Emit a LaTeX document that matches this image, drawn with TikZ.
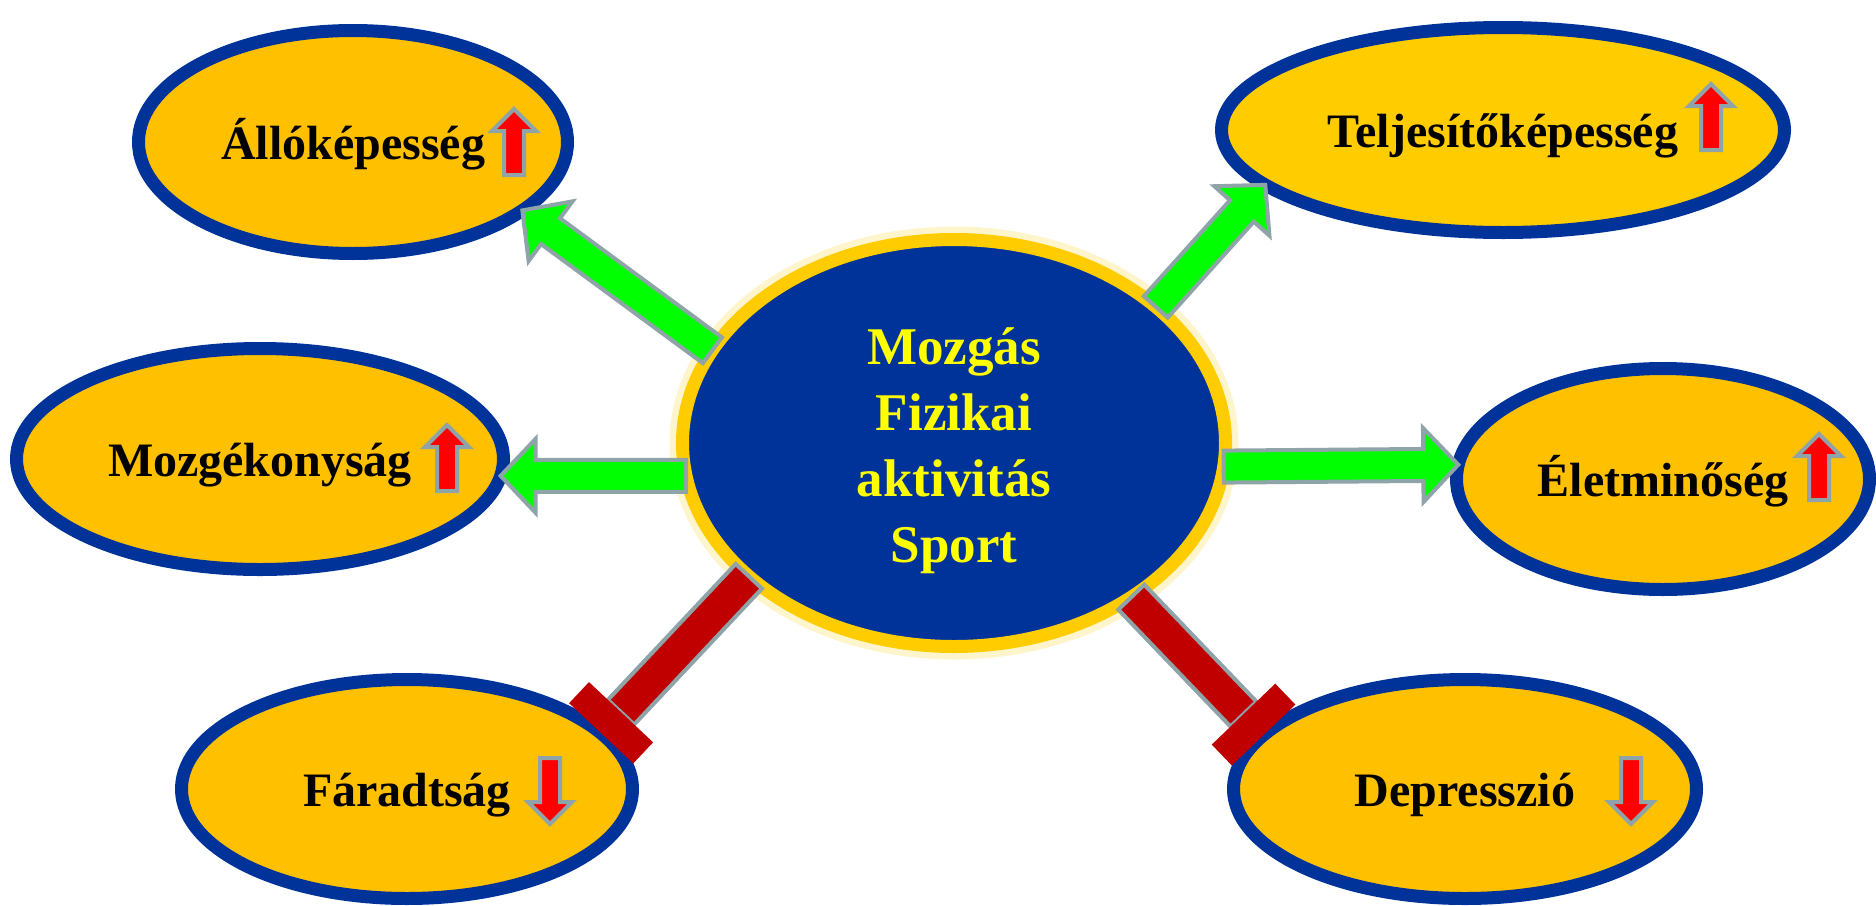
\documentclass[tikz,border=0pt]{standalone}
\usepackage{fontspec}
\setmainfont{Liberation Serif}
\usetikzlibrary{calc,shapes.geometric}

\definecolor{bordblue}{RGB}{0,51,153}
\definecolor{bubblefill}{RGB}{255,192,0}
\definecolor{bubblelight}{RGB}{255,204,0}
\definecolor{hubring}{RGB}{255,204,0}
\definecolor{hubtext}{RGB}{255,255,0}
\definecolor{arrgreen}{RGB}{0,255,0}
\definecolor{arrgray}{RGB}{143,164,168}
\definecolor{barred}{RGB}{192,0,0}
\definecolor{trendred}{RGB}{255,0,0}

\tikzset{
  bubble/.style={ellipse, draw=bordblue, line width=13pt, fill=bubblefill, outer sep=0pt, inner sep=0pt,
    font=\bfseries\fontsize{48}{58}\selectfont, text height=46pt, text depth=12pt},
  hub/.style={ellipse, draw=hubring, line width=13pt, fill=bordblue, outer sep=0pt,
    preaction={draw=hubring, line width=26pt, opacity=0.2}},
  hubfont/.style={align=center, text=hubtext, font=\bfseries\fontsize{53}{66}\selectfont},
  posarr/.style={draw=arrgray, fill=arrgreen, line width=4pt, line join=miter},
  negshaft/.style={draw=arrgray, fill=barred, line width=4pt},
  negbar/.style={fill=barred},
  trend/.pic={\draw[draw=arrgray, fill=trendred, line width=4pt] (-10,33) -- (-10,-11) -- (-22,-11) -- (0,-33) -- (22,-11) -- (10,-11) -- (10,33) -- cycle;}
}

\newcommand{\posarrow}[2]{%
  \coordinate (pa) at (#1);
  \coordinate (pb) at (#2);
  \coordinate (pc) at ($(pb)!35pt!(pa)$);
  \draw[posarr] ($(pa)!16pt!90:(pb)$) -- ($(pc)!16pt!90:(pb)$) -- ($(pc)!37pt!90:(pb)$) -- (pb)
    -- ($(pc)!37pt!-90:(pb)$) -- ($(pc)!16pt!-90:(pb)$) -- ($(pa)!16pt!-90:(pb)$) -- cycle;}

\newcommand{\negarrow}[2]{%
  \coordinate (na) at (#1);
  \coordinate (nb) at (#2);
  \coordinate (nc) at ($(nb)!29pt!(na)$);
  \draw[negshaft] ($(na)!18pt!90:(nb)$) -- ($(nc)!18pt!90:(nb)$) -- ($(nc)!18pt!-90:(nb)$) -- ($(na)!18pt!-90:(nb)$) -- cycle;
  \fill[negbar] ($(nc)!44pt!90:(nb)$) -- ($(nb)!44pt!-90:(nc)$) -- ($(nb)!44pt!90:(nc)$) -- ($(nc)!44pt!-90:(nb)$) -- cycle;}

\begin{document}
\begin{tikzpicture}[x=1pt, y=-1pt]
\useasboundingbox (0,0) rectangle (1876,905);

\node[bubble, minimum width=429pt, minimum height=223pt] (allo) at (353,142) {Állóképesség};
\node[bubble, fill=bubblelight, minimum width=563pt, minimum height=205pt] (telj) at (1503,130) {Teljesítőképesség};
\node[bubble, minimum width=487pt, minimum height=221pt] (mozg) at (260,459) {Mozgékonyság};
\node[bubble, minimum width=413pt, minimum height=221pt] (elet) at (1663,479) {Életminőség};
\node[bubble, minimum width=451pt, minimum height=219pt] (fara) at (407,789) {Fáradtság};
\node[bubble, minimum width=463pt, minimum height=219pt] (depr) at (1465,789) {Depresszió};

\node[hub, minimum width=543pt, minimum height=407pt] (ctr) at (954,443) {};
\node[hubfont] (ctrtxt) at (954,451) {Mozgás\\Fizikai\\aktivitás\\Sport};

\pic at ($(allo)+(161,0)$) {trend};
\pic at ($(telj)+(208,-13)$) {trend};
\pic at ($(mozg)+(187,-1)$) {trend};
\pic at ($(elet)+(156,-12)$) {trend};
\pic[rotate=180] at ($(fara)+(143,2)$) {trend};
\pic[rotate=180] at ($(depr)+(166,2)$) {trend};

\posarrow{ctr.159}{allo.-22}
\posarrow{ctr.34}{telj.193}
\posarrow{ctr.187}{mozg.-4}
\posarrow{ctr.-5}{elet.176}
\negarrow{ctr.213}{fara.16}
\negarrow{ctr.-41}{depr.165}

\end{tikzpicture}
\end{document}
